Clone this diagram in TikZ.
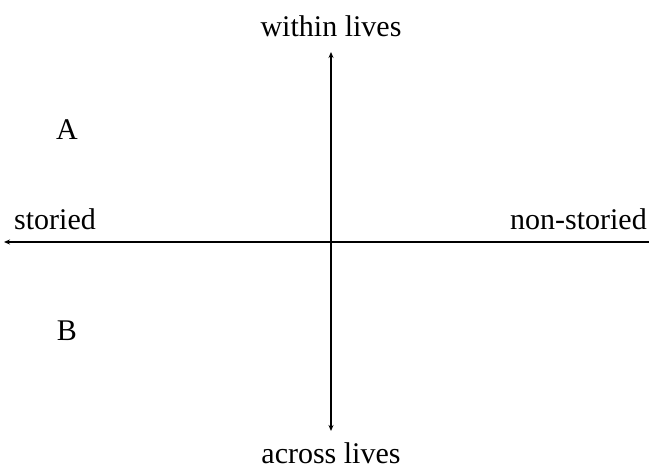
\documentclass[tikz,border=0pt]{standalone}
\usepackage{fontspec}
\setmainfont{Liberation Serif}
\usetikzlibrary{arrows.meta}
\begin{document}
\begin{tikzpicture}[x=1pt,y=-1pt,
  lbl/.style={font=\fontsize{30}{34}\selectfont, inner sep=0pt},
  tip/.style={Stealth[length=6pt,width=5pt]},
  axis/.style={line width=1.4pt}]
\useasboundingbox (0,0) rectangle (649,470);
\coordinate (c) at (331,242);
\coordinate (lft) at (4,242);
\coordinate (rgt) at (649,242);
\coordinate (top) at (331,52);
\coordinate (bot) at (331,431);
\draw[axis, -{Stealth[length=6pt,width=5pt]}] (rgt) -- (lft);
\draw[axis, {Stealth[length=6pt,width=5pt]}-{Stealth[length=6pt,width=5pt]}] (top) -- (bot);
\node[lbl, anchor=base] (w) at (331,37) {within lives};
\node[lbl, anchor=base] (a) at (331,464) {across lives};
\node[lbl, anchor=base west] (s) at (14,230) {storied};
\node[lbl, anchor=base east] (n) at (647,230) {non-storied};
\node[lbl, anchor=base] (A) at (67,140) {A};
\node[lbl, anchor=base] (B) at (67,341) {B};
\end{tikzpicture}
\end{document}
